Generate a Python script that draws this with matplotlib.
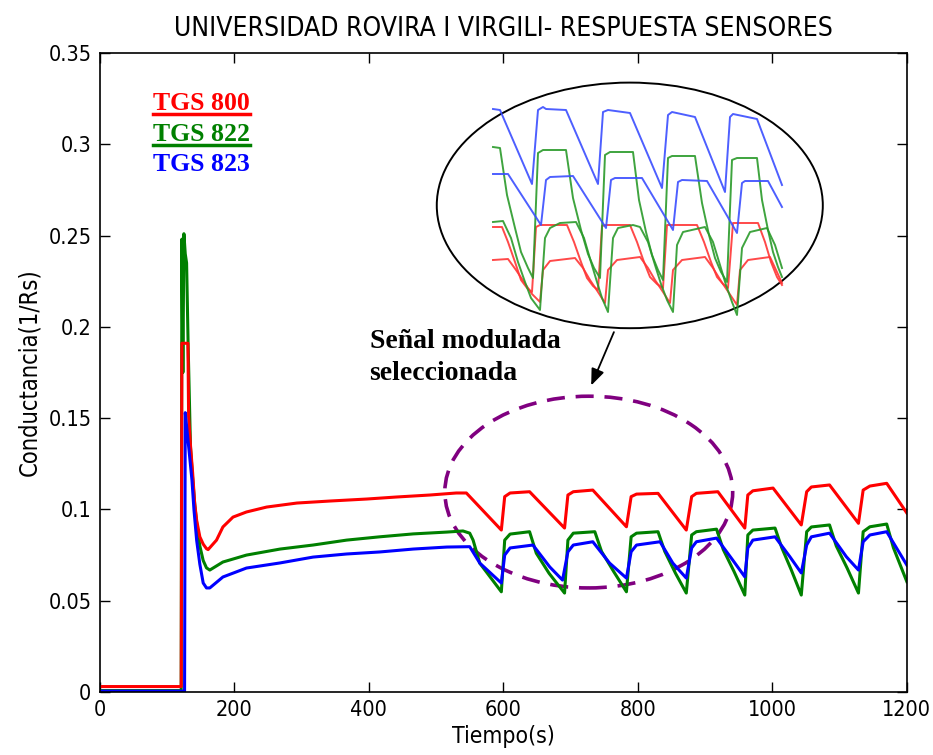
import matplotlib.pyplot as plt
from matplotlib.patches import Ellipse
from matplotlib.lines import Line2D

# ---- main series (time in s, conductance 1/Rs) ----
t_red = [0, 121, 122, 131, 132, 135, 138, 141, 144, 148.7, 153.7, 158.6, 161, 173.5, 183, 198, 218, 248,
         293, 342, 397, 441, 491, 530, 545, 597, 602, 610, 639, 691, 696, 704, 733, 783, 790, 798, 830,
         872, 880, 887, 919, 959, 963.5, 971, 1001, 1043, 1051, 1058, 1085, 1128, 1135, 1145, 1170, 1200]
v_red = [0.003, 0.003, 0.191, 0.191, 0.151, 0.134, 0.12, 0.1035, 0.094, 0.085, 0.081, 0.0785, 0.078,
         0.0832, 0.0904, 0.0958, 0.0986, 0.1013, 0.1035, 0.1046, 0.1057, 0.1068, 0.1079, 0.109, 0.109,
         0.0887, 0.107, 0.109, 0.1097, 0.0898, 0.1079, 0.1097, 0.1106, 0.0905, 0.107, 0.1084, 0.1088,
         0.0887, 0.107, 0.1088, 0.1097, 0.0898, 0.1079, 0.1102, 0.1117, 0.0915, 0.1097, 0.1123, 0.1134,
         0.0924, 0.1106, 0.1128, 0.1143, 0.098]

t_green = [0, 121, 122, 123.5, 125, 127, 129, 131.3, 134.8, 137.8, 141.3, 144.7, 148.7, 153.7, 158.6,
           163.5, 183, 218, 268, 317, 367, 416, 466, 516, 540, 550, 555, 565, 580, 597, 602, 610, 639,
           649, 668, 691, 696, 704, 736, 746, 764, 783, 790, 798, 830, 840, 856, 872, 880, 887, 917,
           927, 943, 959, 963.5, 971, 1004, 1014, 1028, 1043, 1051, 1058, 1085, 1095, 1111, 1128,
           1135, 1145, 1170, 1180, 1200]
v_green = [0.0008, 0.0008, 0.248, 0.175, 0.251, 0.24, 0.235, 0.19, 0.134, 0.118, 0.102, 0.09, 0.08,
           0.072, 0.068, 0.0668, 0.0712, 0.075, 0.0783, 0.0805, 0.0832, 0.085, 0.0866, 0.0876, 0.0882,
           0.087, 0.0832, 0.0705, 0.0632, 0.0549, 0.0832, 0.0865, 0.0878, 0.076, 0.065, 0.0542, 0.0832,
           0.087, 0.0878, 0.077, 0.066, 0.0549, 0.085, 0.087, 0.0878, 0.077, 0.065, 0.0542, 0.086,
           0.0878, 0.0892, 0.078, 0.066, 0.0531, 0.086, 0.0887, 0.0898, 0.079, 0.067, 0.0531, 0.0878,
           0.0904, 0.0915, 0.080, 0.068, 0.0542, 0.0878, 0.0905, 0.092, 0.079, 0.0604]

t_blue = [0, 126, 127, 130, 133, 137, 140, 144, 148.7, 153.7, 158.6, 163.5, 183, 218, 268, 317, 367,
          416, 466, 516, 550, 565, 597, 602, 610, 644, 669, 688, 696, 704, 733, 758, 783, 790, 798,
          833, 852, 872, 880, 887, 917, 941, 959, 963.5, 971, 1004, 1026, 1043, 1051, 1058, 1085,
          1110, 1128, 1135, 1145, 1170, 1200]
v_blue = [0.0005, 0.0005, 0.153, 0.142, 0.131, 0.116, 0.0997, 0.083, 0.07, 0.0597, 0.057, 0.057,
          0.063, 0.0679, 0.0707, 0.0739, 0.0756, 0.0767, 0.0783, 0.0794, 0.0796, 0.0706, 0.0597,
          0.075, 0.0789, 0.0805, 0.0685, 0.0613, 0.0768, 0.0805, 0.0823, 0.0706, 0.0624, 0.0768,
          0.0805, 0.0823, 0.0706, 0.0624, 0.0789, 0.0823, 0.0843, 0.0723, 0.0631, 0.0789, 0.0832,
          0.085, 0.0741, 0.0652, 0.0805, 0.085, 0.087, 0.0741, 0.0668, 0.0823, 0.086, 0.0878, 0.0695]

# ---- zoomed inset (arbitrary units) ----
ix_b1 = [63, 70, 102, 108, 113, 116, 136, 168, 173, 178, 200, 232, 238, 242, 265, 295, 300, 303, 327, 352]
iy_b1 = [221, 220, 146, 220, 223, 221, 220, 146, 218, 220, 217, 142, 215, 218, 213, 138, 213, 216, 211, 145]
ix_b2 = [63, 78, 111, 116, 120, 143, 176, 181, 185, 212, 243, 248, 252, 277, 307, 312, 315, 338, 352]
iy_b2 = [156, 156, 105, 150, 153, 154, 102, 150, 152, 152, 100, 148, 150, 149, 97, 147, 149, 149, 123]
ix_g1 = [63, 70, 77, 85, 91, 98, 103, 108, 113, 136, 143, 151, 158, 164, 170, 175, 180, 203, 209, 216,
         222, 228, 233, 238, 242, 265, 272, 279, 285, 291, 297, 302, 307, 327, 332, 338, 343, 348, 352]
iy_g1 = [183, 182, 135, 102, 78, 62, 52, 177, 180, 180, 132, 100, 76, 62, 52, 175, 178, 178, 130, 98,
         75, 60, 50, 172, 174, 174, 127, 95, 72, 58, 48, 170, 172, 172, 130, 100, 78, 63, 53]
ix_g2 = [63, 73, 81, 88, 95, 101, 110, 115, 120, 130, 146, 154, 161, 167, 172, 178, 183, 188, 203, 210,
         218, 225, 231, 237, 243, 247, 253, 275, 283, 290, 296, 302, 307, 312, 320, 337, 345, 352]
iy_g2 = [108, 109, 92, 68, 48, 32, 20, 92, 102, 107, 108, 92, 68, 48, 32, 18, 92, 102, 105, 103, 88,
         65, 46, 30, 18, 85, 98, 103, 88, 65, 45, 28, 15, 82, 98, 102, 85, 62]
ix_r1 = [63, 72, 78, 85, 91, 97, 102, 106, 110, 137, 144, 151, 157, 163, 168, 172, 176, 200, 207, 214,
         220, 227, 233, 237, 241, 267, 274, 281, 287, 293, 298, 303, 307, 328, 335, 341, 347, 352]
iy_r1 = [103, 103, 88, 68, 50, 42, 38, 103, 105, 105, 88, 68, 52, 44, 40, 104, 105, 105, 88, 68, 53,
         46, 42, 105, 105, 105, 88, 68, 53, 46, 42, 107, 107, 107, 88, 68, 53, 45]
ix_r2 = [63, 78, 86, 94, 102, 110, 113, 120, 145, 153, 160, 168, 175, 178, 187, 210, 218, 225, 233, 240,
         243, 252, 275, 283, 291, 299, 307, 310, 318, 340, 352]
iy_r2 = [70, 71, 60, 48, 36, 28, 60, 69, 72, 62, 50, 38, 27, 60, 70, 73, 62, 50, 38, 27, 60, 70, 73,
         62, 49, 37, 25, 60, 70, 73, 47]

plt.rcParams['font.family'] = ['DejaVu Sans']
plt.rcParams['font.stretch'] = 'condensed'

fig = plt.figure(figsize=(9.33, 7.55), dpi=100)
ax = fig.add_axes([0.107, 0.0834, 0.865, 0.8465])

ax.plot(t_green, v_green, color='#008000', linewidth=2.2)
ax.plot(t_red, v_red, color='#ff0000', linewidth=2.2)
ax.plot(t_blue, v_blue, color='#0000ff', linewidth=2.2)

ax.set_xlim(0, 1200)
ax.set_ylim(0, 0.35)
ax.set_xticks(range(0, 1201, 200))
ax.set_yticks([0, 0.05, 0.1, 0.15, 0.2, 0.25, 0.3, 0.35])
ax.set_yticklabels(['0', '0.05', '0.1', '0.15', '0.2', '0.25', '0.3', '0.35'])
ax.tick_params(direction='in', length=7, width=1, top=True, right=True, labelsize=15.5, pad=6)
for s in ax.spines.values():
    s.set_linewidth(1.2)

ax.set_title('UNIVERSIDAD ROVIRA I VIRGILI- RESPUESTA SENSORES', fontsize=19, pad=12)
ax.set_xlabel('Tiempo(s)', fontsize=16.5, labelpad=3)
ax.set_ylabel('Conductancia(1/Rs)', fontsize=17, labelpad=5)

# sensor labels
labels = ['TGS 800', 'TGS 822', 'TGS 823']
label_colors = ['#ff0000', '#008000', '#0000ff']
label_v = [0.319, 0.302, 0.2855]
txts = []
for lab, c, yv in zip(labels, label_colors, label_v):
    txts.append(ax.text(79, yv, lab, color=c, fontsize=18.5, fontweight='bold',
                        family='Liberation Serif', fontstretch='normal', va='baseline'))

# selected modulated region + zoom ellipse
ax.add_patch(Ellipse((727, 0.1095), 428, 0.105, fill=False, edgecolor='#800080',
                     linewidth=2.6, linestyle=(0, (5, 3))))
ax.add_patch(Ellipse((788, 0.2665), 574, 0.1345, fill=False, edgecolor='black', linewidth=1.4))

ax.text(401, 0.1709, 'Señal modulada\nseleccionada', fontsize=20, fontweight='bold',
        family='Liberation Serif', fontstretch='normal', va='baseline', linespacing=1.35)
ax.annotate('', xy=(729, 0.1665), xytext=(766, 0.1985),
            arrowprops=dict(arrowstyle='-|>,head_length=1.0,head_width=0.4', color='black', lw=1.3))

# inset with zoomed signals
ins = fig.add_axes([430 / 933, 1 - 330 / 755, 400 / 933, 240 / 755])
ins.set_xlim(0, 400)
ins.set_ylim(0, 240)
ins.axis('off')
ins.patch.set_alpha(0)
for xs, ys, c in [(ix_r2, iy_r2, '#ff3535'), (ix_r1, iy_r1, '#ff3535'),
                  (ix_g2, iy_g2, '#2a9a2a'), (ix_g1, iy_g1, '#2a9a2a'),
                  (ix_b2, iy_b2, '#3a4dff'), (ix_b1, iy_b1, '#3a4dff')]:
    ins.plot(xs, ys, color=c, linewidth=1.4, alpha=0.9)

# underline the first two sensor labels
fig.canvas.draw()
r = fig.canvas.get_renderer()
inv = fig.transFigure.inverted()
for t, c in zip(txts[:2], label_colors[:2]):
    bb = t.get_window_extent(r)
    (x0, y0), (x1, _) = inv.transform([(bb.x0, bb.y0 + 1), (bb.x1, bb.y0)])
    fig.add_artist(Line2D([x0, x1], [y0, y0], color=c, linewidth=2.5, transform=fig.transFigure))

fig.savefig('out.png', dpi=100)
